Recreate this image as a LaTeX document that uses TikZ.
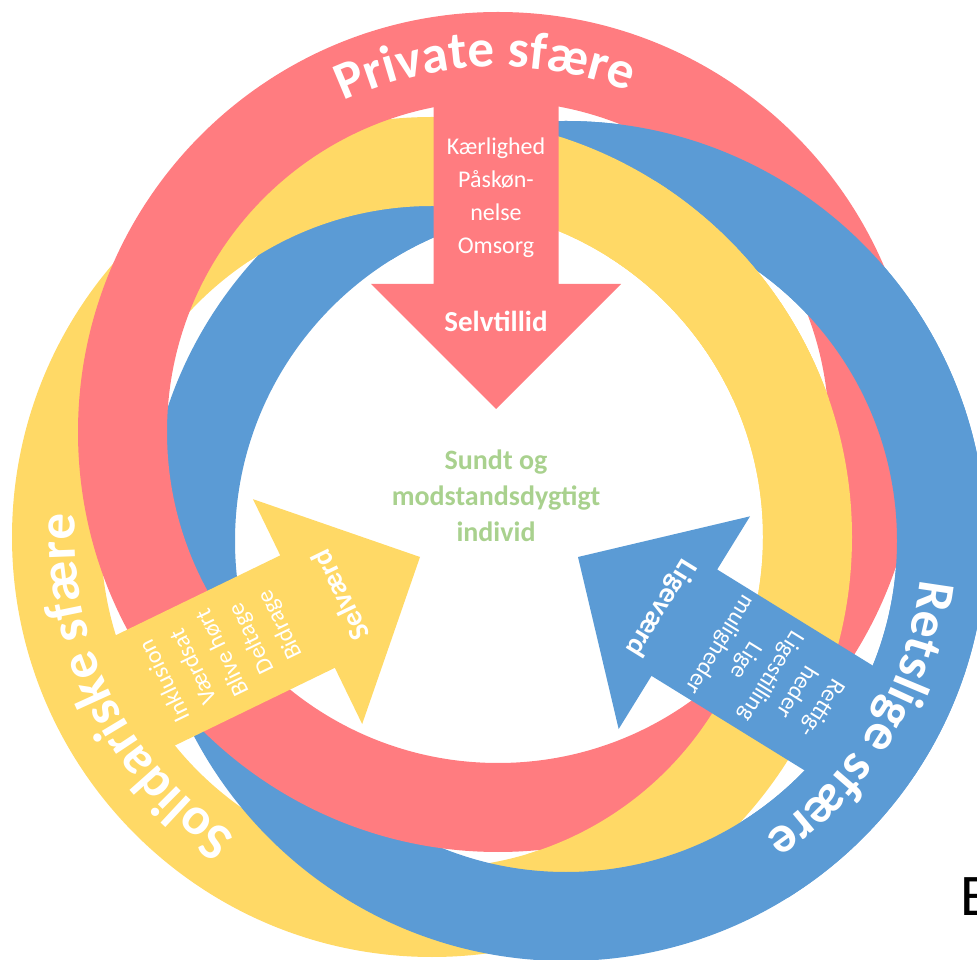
\documentclass[tikz,border=0pt]{standalone}
\usepackage{fontspec}
\setmainfont{Carlito}
\usetikzlibrary{decorations.text}
\definecolor{ringred}{HTML}{FF7C80}
\definecolor{ringyellow}{HTML}{FFD966}
\definecolor{ringblue}{HTML}{5B9BD5}
\definecolor{textgreen}{HTML}{A9D18E}
\begin{document}
\begin{tikzpicture}[x=1pt,y=1pt,
  ring/.style={fill=#1, even odd rule},
  armtext/.style={text=white, font=\fontsize{24}{#1}\selectfont, align=center, inner sep=0pt},
  headtext/.style={text=white, font=\bfseries\fontsize{29}{29}\selectfont, inner sep=0pt},
  ringtext/.style={decorate, decoration={text along path, text align=center,
      text={|\color{white}\bfseries\fontsize{53}{53}\selectfont|#1}}},
  centertext/.style={text=textgreen, font=\bfseries\fontsize{28}{36}\selectfont, align=center, inner sep=0pt}
]
\useasboundingbox (0,0) rectangle (977,959);
\clip (0,0) rectangle (977,959);
\coordinate (Cr) at (498,527);
\coordinate (Cy) at (432,422);
\coordinate (Cb) at (566,418);
% base rings
\fill[ring=ringyellow] (Cy) circle[radius=420] (Cy) circle[radius=331];
\fill[ring=ringblue] (Cb) circle[radius=420] (Cb) circle[radius=331];
\fill[ring=ringred] (Cr) circle[radius=420] (Cr) circle[radius=331];
% blue over red, upper right
\begin{scope}
  \clip (-31,1375) -- (1027,-321) -- (2299,472) -- (1241,2168) -- cycle;
  \fill[ring=ringblue] (Cb) circle[radius=420] (Cb) circle[radius=331];
\end{scope}
% yellow over blue, top
\begin{scope}
  \clip (0,559) rectangle (977,959);
  \clip (Cb) circle[radius=423];
  \fill[ring=ringyellow] (Cy) circle[radius=420] (Cy) circle[radius=331];
\end{scope}
% yellow over red, lower right
\begin{scope}
  \clip (1030,1374) -- (-34,-320) -- (1236,-1118) -- (2300,576) -- cycle;
  \clip (Cr) circle[radius=423];
  \fill[ring=ringyellow] (Cy) circle[radius=420] (Cy) circle[radius=331];
\end{scope}
% red arrow
\begin{scope}[shift={(496,550)}, rotate=-90]
  \fill[ringred] (0,0) -- (-125,125) -- (-125,62.5) -- (-352,62.5) -- (-352,-62.5) -- (-125,-62.5) -- (-125,-125) -- cycle;
  \node[armtext=33] (redlist) at (-211.5,0) {Kærlighed\\Påskøn-\\nelse\\Omsorg};
  \node[headtext] (redhead) at (-88,0) {Selvtillid};
\end{scope}
% yellow arrow
\begin{scope}[shift={(420,402)}, rotate=25.9]
  \fill[ringyellow] (0,0) -- (-125,125) -- (-125,62.5) -- (-352,62.5) -- (-352,-62.5) -- (-125,-62.5) -- (-125,-125) -- cycle;
  \node[armtext=32, rotate=115.9] (yellowlist) at (-218.5,0) {Inklusion\\Værdsat\\Blive hørt\\Deltage\\Bidrage};
  \node[headtext, rotate=115.9] (yellowhead) at (-89,0) {Selværd};
\end{scope}
% blue arrow
\begin{scope}[shift={(578,402)}, rotate=148.3]
  \fill[ringblue] (0,0) -- (-125,125) -- (-125,62.5) -- (-352,62.5) -- (-352,-62.5) -- (-125,-62.5) -- (-125,-125) -- cycle;
  \node[armtext=30, rotate=238.3] (bluelist) at (-226.5,0) {Rettig-\\heder\\Ligestilling\\Lige\\muligheder};
  \node[headtext, rotate=238.3] (bluehead) at (-97,0) {Ligeværd};
\end{scope}
% centre text
\node[centertext] (centre) at (496,463) {Sundt og\\modstandsdygtigt\\individ};
% ring labels
\path[ringtext={Private sfære}] ([shift={(Cr)}]172:365) arc[start angle=172, end angle=12, radius=365];
\path[ringtext={Solidariske sfære}] ([shift={(Cy)}]286.5:357) arc[start angle=286.5, end angle=126.5, radius=357];
\path[ringtext={Retslige sfære}] ([shift={(Cb)}]48.9:356) arc[start angle=48.9, end angle=-111.1, radius=356];
% clipped letter at the right edge
\node[anchor=base west, inner sep=0pt, font=\fontsize{59}{59}\selectfont] (cutE) at (960,44) {E};
\end{tikzpicture}
\end{document}
